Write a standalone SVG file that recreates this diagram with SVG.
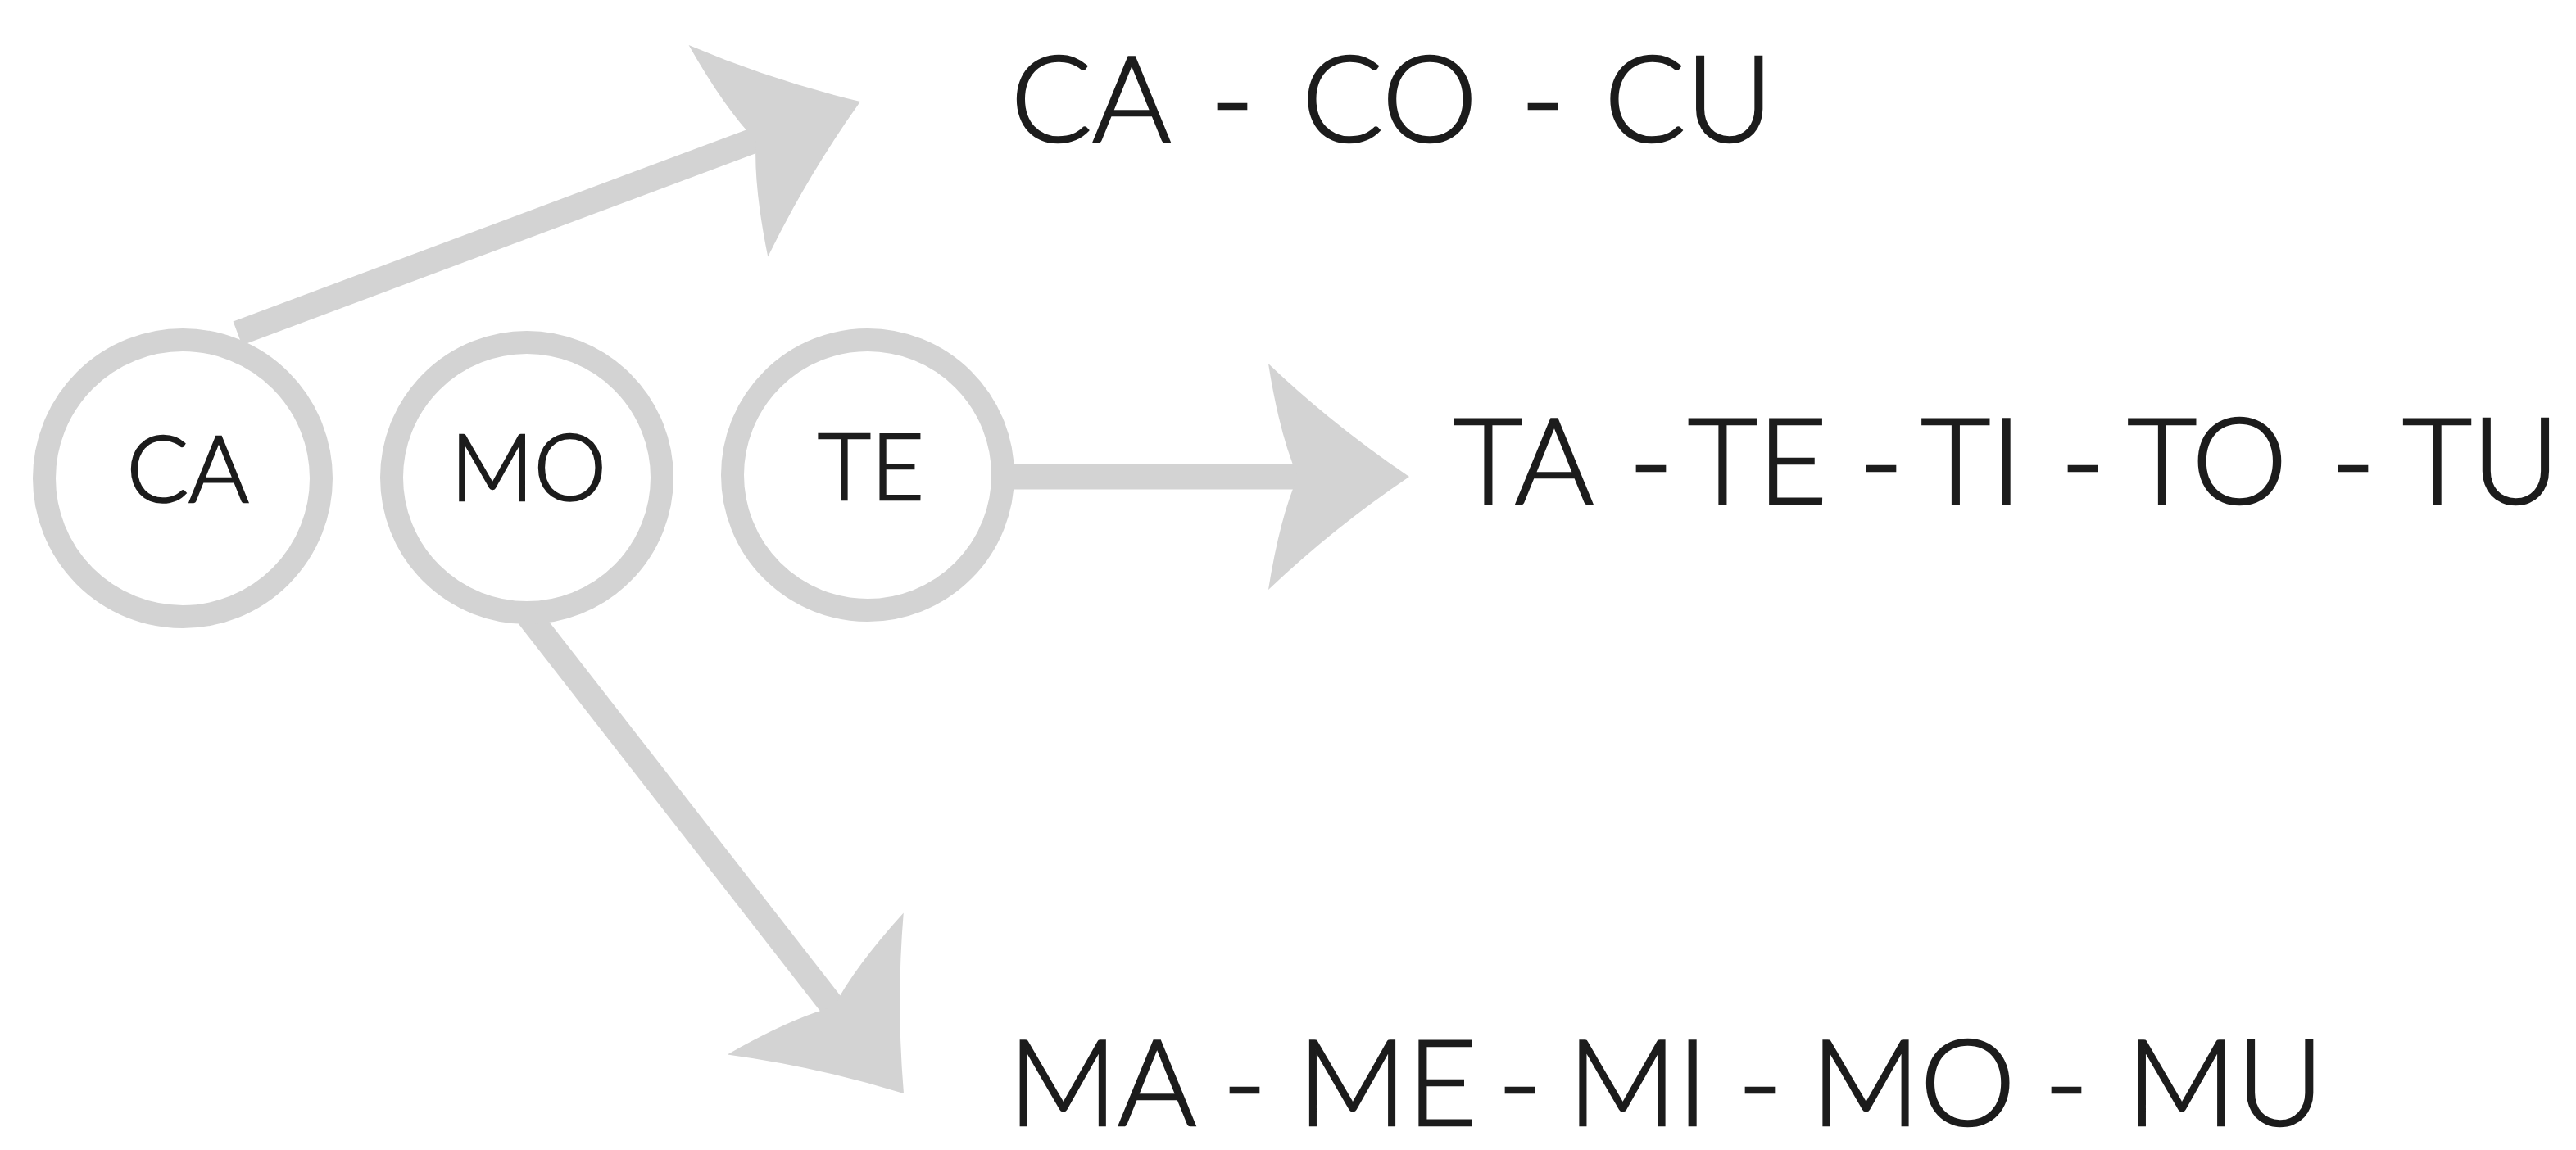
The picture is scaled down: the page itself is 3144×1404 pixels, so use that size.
<svg xmlns="http://www.w3.org/2000/svg" xmlns:xlink="http://www.w3.org/1999/xlink" width="3144" height="1404" viewBox="0 0 3144 1404">
  <style>
    .ring { fill: none; stroke: #d3d3d3; stroke-width: 28; }
    .shaft { fill: none; stroke: #d3d3d3; stroke-width: 31; stroke-linecap: butt; }
    .head { fill: #d3d3d3; }
    .lbl { font-family: "Lato", "Open Sans", "Liberation Sans", sans-serif; font-weight: 300; fill: #1c1c1c; stroke: #1c1c1c; stroke-width: 2.5; text-anchor: middle; }
    .node { font-size: 112px; }
    .list { font-size: 147px; }
  </style>
  <defs>
    <path id="arrowhead" class="head" d="M 0 0 Q -92 -62 -172 -138 Q -158 -50 -136 0 Q -158 50 -172 138 Q -92 62 0 0 Z"/>
  </defs>
  <rect width="3144" height="1404" fill="#ffffff"/>

  <g id="connectors">
    <line class="shaft" x1="290" y1="407" x2="935" y2="166"/>
    <use xlink:href="#arrowhead" transform="translate(1050,124) rotate(-20.5)"/>
    <line class="shaft" x1="1236" y1="582" x2="1600" y2="582"/>
    <use xlink:href="#arrowhead" transform="translate(1720,582)"/>
    <line class="shaft" x1="645" y1="752" x2="1025" y2="1240"/>
    <use xlink:href="#arrowhead" transform="translate(1103,1335) rotate(51.2)"/>
  </g>

  <g id="node-ca">
    <circle class="ring" cx="223" cy="584" r="169"/>
    <text class="lbl node" x="229" y="613">CA</text>
  </g>
  <g id="node-mo">
    <circle class="ring" cx="643" cy="583" r="165"/>
    <text class="lbl node" x="645" y="611">MO</text>
  </g>
  <g id="node-te">
    <circle class="ring" cx="1059" cy="580" r="165"/>
    <text class="lbl node" x="1063" y="610">TE</text>
  </g>

  <g id="list-c">
    <text class="lbl list" y="173"><tspan x="1349">CA</tspan> <tspan x="1524">-</tspan> <tspan x="1716">CO</tspan> <tspan x="1903">-</tspan> <tspan x="2061">CU</tspan></text>
  </g>
  <g id="list-t">
    <text class="lbl list" y="615"><tspan x="1877">TA</tspan> <tspan x="2035">-</tspan> <tspan x="2165">TE</tspan> <tspan x="2316">-</tspan> <tspan x="2426">TI</tspan> <tspan x="2562">-</tspan> <tspan x="2714">TO</tspan> <tspan x="2892">-</tspan> <tspan x="3028">TU</tspan></text>
  </g>
  <g id="list-m">
    <text class="lbl list" y="1374"><tspan x="1363">MA</tspan> <tspan x="1539">-</tspan> <tspan x="1713">ME</tspan> <tspan x="1875">-</tspan> <tspan x="2019">MI</tspan> <tspan x="2168">-</tspan> <tspan x="2355">MO</tspan> <tspan x="2542">-</tspan> <tspan x="2716">MU</tspan></text>
  </g>
</svg>
